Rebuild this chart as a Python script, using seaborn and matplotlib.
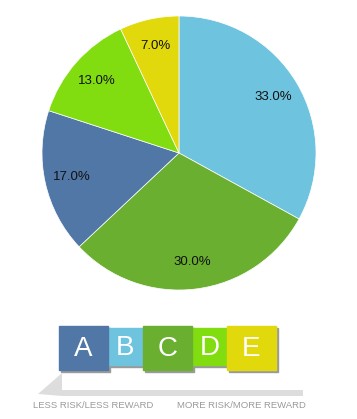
"""Risk/reward allocation pie with lettered legend strip."""

import matplotlib.pyplot as plt
import seaborn as sns
from matplotlib.patches import Polygon, Rectangle

W, H = 357, 419

# data, in drawing order (clockwise from 12 o'clock)
slice_labels = ["B", "C", "A", "D", "E"]
slice_values = [33.0, 30.0, 17.0, 13.0, 7.0]

legend_letters = ["A", "B", "C", "D", "E"]
colors = {
    "A": "#5177a6",
    "B": "#6ec3df",
    "C": "#6aaf30",
    "D": "#82dd10",
    "E": "#e2d90c",
}
low_text = "LESS RISK/LESS REWARD"
high_text = "MORE RISK/MORE REWARD"

sns.set_theme(style="white")
plt.rcParams["font.family"] = ["Liberation Sans", "DejaVu Sans"]

fig = plt.figure(figsize=(W / 100, H / 100), dpi=100)
fig.patch.set_facecolor("white")

# pie: centre (179,153) px, radius 137 px
cx, cy, r = 179, 153, 137
ax = fig.add_axes([(cx - r) / W, (H - cy - r) / H, 2 * r / W, 2 * r / H])
ax.pie(
    slice_values,
    colors=[colors[k] for k in slice_labels],
    startangle=90,
    counterclock=False,
    autopct="%.1f%%",
    pctdistance=0.8,
    wedgeprops={"linewidth": 0.5, "edgecolor": "white"},
    textprops={"fontsize": 9.5, "color": "#111111"},
)
ax.set_xlim(-1, 1)
ax.set_ylim(-1, 1)
ax.set_aspect("equal")
ax.axis("off")

# legend strip + arrow, drawn in pixel space
lx = fig.add_axes([0, 0, 1, 1])
lx.set_xlim(0, W)
lx.set_ylim(H, 0)
lx.axis("off")

big = (49, 44, 326)   # width, height, top
small = (35, 37, 328)
x = 59
for i, letter in enumerate(legend_letters):
    w, h, top = big if i % 2 == 0 else small
    lx.add_patch(Rectangle((x + 2, top + 2), w, h, color="#9a9a9a", zorder=1))
    lx.add_patch(Rectangle((x, top), w, h, color=colors[letter], zorder=2 + (i % 2 == 0)))
    lx.text(x + w / 2, top + h / 2 + 1, letter, color="white", fontsize=20,
            ha="center", va="center", zorder=5)
    x += w

arrow_col = "#dddddd"
lx.add_patch(Rectangle((62, 390), 241, 6, color=arrow_col, lw=0))
lx.add_patch(Polygon([(38, 394), (62, 373), (62, 396)], closed=True, color=arrow_col, lw=0))

lx.text(33, 405, low_text, fontsize=6.8, color="#9a9a9a", ha="left", va="center")
lx.text(306, 405, high_text, fontsize=6.8, color="#9a9a9a", ha="right", va="center")

fig.savefig("out.png", dpi=100)
